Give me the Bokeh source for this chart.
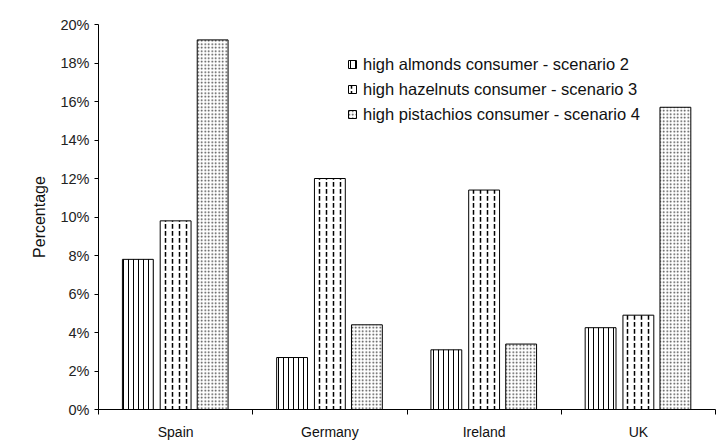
from bokeh.plotting import figure
from bokeh.models import Range1d, FixedTicker, Legend, LegendItem
from bokeh.embed import file_html
from bokeh.resources import INLINE

countries = ["Spain", "Germany", "Ireland", "UK"]
series_names = [
    "high almonds consumer - scenario 2",
    "high hazelnuts consumer - scenario 3",
    "high pistachios consumer - scenario 4",
]
almonds = [7.8, 2.7, 3.1, 4.25]
hazelnuts = [9.8, 12.0, 11.4, 4.9]
pistachios = [19.2, 4.4, 3.4, 15.7]
y_ticks = [0, 2, 4, 6, 8, 10, 12, 14, 16, 18, 20]

FONT = "Liberation Sans"

p = figure(width=728, height=445, output_backend="svg", toolbar_location=None,
           x_range=Range1d(0, len(countries)), y_range=Range1d(0, 20),
           min_border_left=98, min_border_right=13, min_border_top=24, min_border_bottom=36)
p.outline_line_color = None
p.grid.visible = False
p.background_fill_color = "white"
p.border_fill_color = "white"

styles = [
    dict(hatch_pattern="vertical_line", hatch_scale=5, hatch_weight=1),
    dict(hatch_pattern="vertical_dash", hatch_scale=7, hatch_weight=1.5),
    dict(hatch_pattern="dot", hatch_scale=3.5, hatch_weight=1.3, hatch_alpha=0.75),
]
offsets = [-0.245, 0.0, 0.24]
renderers = []
for vals, off, st in zip([almonds, hazelnuts, pistachios], offsets, styles):
    xs = [i + 0.5 + off for i in range(len(countries))]
    r = p.vbar(x=xs, top=vals, bottom=0, width=0.2, fill_color="white",
               line_color="black", line_width=1, hatch_color="black", **st)
    renderers.append(r)

# axes
p.yaxis.ticker = FixedTicker(ticks=y_ticks)
p.yaxis.major_label_overrides = {t: f"{t}%" for t in y_ticks}
p.yaxis.minor_tick_line_color = None
p.yaxis.major_tick_in = 0
p.yaxis.major_tick_out = 4
p.yaxis.major_label_standoff = 5
p.yaxis.axis_label = "Percentage"
p.yaxis.axis_label_text_font = FONT
p.yaxis.axis_label_text_font_style = "normal"
p.yaxis.axis_label_text_font_size = "16px"
p.yaxis.axis_label_text_color = "#111111"
p.yaxis.axis_label_standoff = 9
p.yaxis.major_label_text_font = FONT
p.yaxis.major_label_text_font_size = "14.5px"
p.yaxis.major_label_text_color = "#222222"

centers = [i + 0.5 for i in range(len(countries))]
p.xaxis.ticker = FixedTicker(ticks=centers, minor_ticks=list(range(len(countries) + 1)))
p.xaxis.major_label_overrides = {c: name for c, name in zip(centers, countries)}
p.xaxis.major_tick_line_color = None
p.xaxis.minor_tick_in = 0
p.xaxis.minor_tick_out = 5
p.xaxis.minor_tick_line_color = "black"
p.xaxis.major_label_standoff = 8
p.xaxis.major_label_text_font = FONT
p.xaxis.major_label_text_font_size = "14px"
p.xaxis.major_label_text_color = "#111111"

legend = Legend(items=[LegendItem(label=n, renderers=[r]) for n, r in zip(series_names, renderers)],
                location=(249, 285), border_line_color=None, background_fill_alpha=0,
                glyph_width=10, glyph_height=10, label_height=20, spacing=5, padding=0,
                margin=0, label_text_font=FONT, label_text_font_size="16.5px",
                label_standoff=6, label_text_color="#111111")
p.add_layout(legend)

open("out.html", "w").write(file_html(p, INLINE))
